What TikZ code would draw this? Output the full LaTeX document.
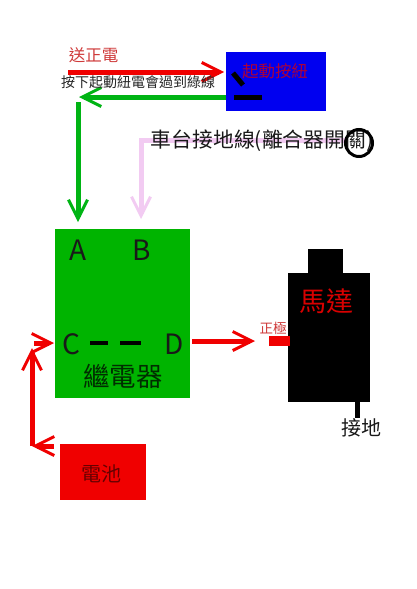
\documentclass[tikz,border=0pt]{standalone}
\usepackage{fontspec}
\setmainfont{Noto Sans CJK TC}
\usetikzlibrary{arrows.meta}
\definecolor{relaygreen}{HTML}{00B400}
\definecolor{wirered}{HTML}{F00000}
\definecolor{wiregreen}{HTML}{00B414}
\definecolor{wirepink}{HTML}{F2CBF2}
\definecolor{switchblue}{HTML}{0000F0}
\definecolor{labelred}{HTML}{CF3A3A}
\tikzset{
  px/.style={font=\fontsize{#1}{#1}\selectfont, inner sep=0pt},
  block/.style={inner sep=0pt, outer sep=0pt, minimum width=#1},
  wire/.style={line width=5pt, -{Straight Barb[length=19pt,width=19pt,line width=3pt]}},
  contact/.style={line width=4pt, black},
}
\begin{document}
\begin{tikzpicture}[x=1pt,y=-1pt]
\useasboundingbox (0,0) rectangle (417,589);
\fill[white] (0,0) rectangle (417,589);
% blocks
\node[block=100.5pt, minimum height=58.5pt, fill=switchblue, anchor=north west] (button) at (225.5,52) {};
\node[block=135pt, minimum height=169pt, fill=relaygreen, anchor=north west] (relay) at (55,229) {};
\node[block=86pt, minimum height=56pt, fill=wirered, anchor=north west] (battery) at (60,444) {};
\node[block=81.5pt, minimum height=129pt, fill=black, anchor=north west] (motor) at (288,273) {};
\node[block=35pt, minimum height=24pt, fill=black, anchor=north west] (motortop) at (308,249) {};
\node[block=21pt, minimum height=10pt, fill=wirered, anchor=north west] (plus) at (269,336) {};
\node[block=5pt, minimum height=16pt, fill=black, anchor=north west] (leg) at (355,401.5) {};
% free ends of connectors
\coordinate (redstart) at (68,72);
\coordinate (redend) at (224,72);
\coordinate (greenend) at (79,97);
\coordinate (greentop) at (78,102);
\coordinate (greendown) at (78,222);
\coordinate (pinkstart) at (345,140);
\coordinate (pinkend) at (141,219);
\coordinate (dout) at (192,341);
\coordinate (dend) at (255,341);
\coordinate (batout) at (53.5,446);
\coordinate (corner) at (32,446);
\coordinate (vend) at (32,348);
\coordinate (cstart) at (34,343);
\coordinate (cin) at (54,343);
% connectors
\draw[wire, wirepink] (pinkstart) -| (pinkend);
\draw[wire, wirered] (redstart) -- (redend);
\draw[wire, wiregreen] (button.west |- 0,97) -- (greenend);
\draw[wire, wiregreen] (greentop) -- (greendown);
\draw[wire, wirered] (dout) -- (dend);
\draw[wire, wirered] (batout) -- (corner);
\draw[wire, wirered] (corner) -- (vend);
\draw[wire, wirered] (cstart) -- (cin);
% switch contacts
\coordinate (sw1a) at (233,73);
\coordinate (sw1b) at (243,85);
\coordinate (sw2a) at (234,97.5);
\coordinate (sw2b) at (262,97.5);
\coordinate (d1a) at (90,343);
\coordinate (d1b) at (108,343);
\coordinate (d2a) at (120,343);
\coordinate (d2b) at (141,343);
\draw[line width=5pt] (sw1a) -- (sw1b);
\draw[line width=5pt] (sw2a) -- (sw2b);
\draw[contact] (d1a) -- (d1b);
\draw[contact] (d2a) -- (d2b);
% texts
\node[px=16.5, text=labelred] (t1) at (93.5,55) {送正電};
\node[px=14, text=black!85] (t2) at (138,82) {按下起動紐電會過到綠線};
\node[px=16.5, text=purple!90!black] (t3) at (275,71) {起動按紐};
\node[px=20.8, text=black!90] (t4) at (262,141) {車台接地線(離合器開關)};
\node[draw=black, line width=3pt, circle, minimum size=27pt, inner sep=0pt] (ring) at (359,143) {};
\node[px=28, text=black!90] (A) at (78,250) {A};
\node[px=28, text=black!90] (B) at (142,250) {B};
\node[px=28, text=black!90] (C) at (71,344) {C};
\node[px=28, text=black!90] (D) at (174,344) {D};
\node[px=26.5, text=black!75!relaygreen] (t5) at (123,376) {繼電器};
\node[px=20, text=black!60!red] (t6) at (101,474) {電池};
\node[px=27, text=red!85!black] (t7) at (326,301) {馬達};
\node[px=13.5, text=labelred] (t8) at (273,328) {正極};
\node[px=20, text=black!90] (t9) at (361,428) {接地};
\end{tikzpicture}
\end{document}
